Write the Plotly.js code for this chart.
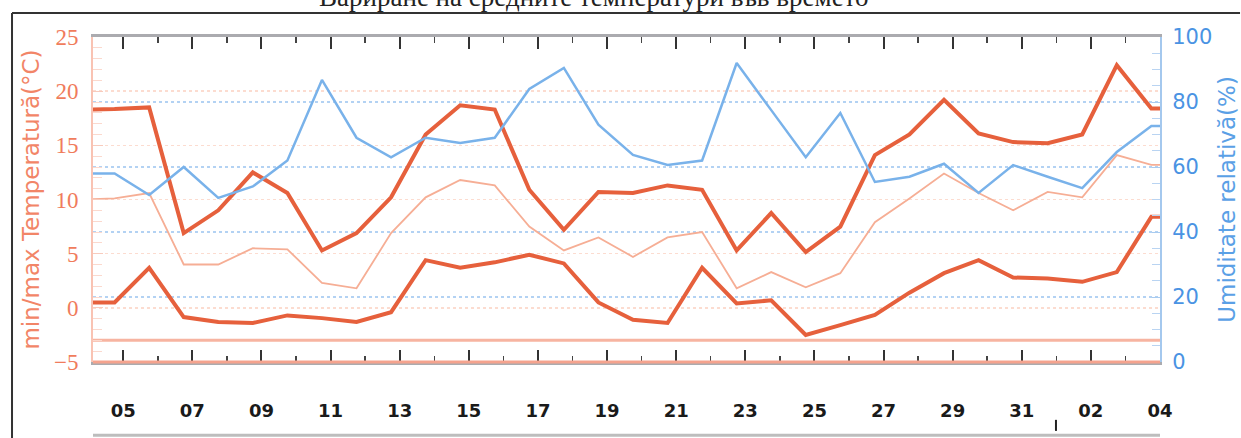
<!DOCTYPE html>
<html>
<head>
<meta charset="utf-8">
<script src="https://cdn.plot.ly/plotly-3.0.1.min.js"></script>
<style>
html,body{margin:0;padding:0;background:#fff;}
#chart{width:1241px;height:438px;}
</style>
</head>
<body>
<div id="chart"></div>
<script>
// Observation times (18:00 each day)
const dates = [
  '2012-10-03 18:00','2012-10-04 18:00','2012-10-05 18:00','2012-10-06 18:00','2012-10-07 18:00',
  '2012-10-08 18:00','2012-10-09 18:00','2012-10-10 18:00','2012-10-11 18:00','2012-10-12 18:00',
  '2012-10-13 18:00','2012-10-14 18:00','2012-10-15 18:00','2012-10-16 18:00','2012-10-17 18:00',
  '2012-10-18 18:00','2012-10-19 18:00','2012-10-20 18:00','2012-10-21 18:00','2012-10-22 18:00',
  '2012-10-23 18:00','2012-10-24 18:00','2012-10-25 18:00','2012-10-26 18:00','2012-10-27 18:00',
  '2012-10-28 18:00','2012-10-29 18:00','2012-10-30 18:00','2012-10-31 18:00','2012-11-01 18:00',
  '2012-11-02 18:00','2012-11-03 18:00','2012-11-04 18:00'
];
const tMax = [18.3,18.35,18.5,6.9,9.0,12.5,10.6,5.3,6.9,10.2,16.0,18.7,18.3,10.9,7.2,10.7,10.6,11.3,10.9,5.3,8.75,5.15,7.5,14.1,16.0,19.2,16.1,15.3,15.2,16.0,22.4,18.4,18.4];
const tMean = [10.0,10.1,10.6,4.0,4.0,5.5,5.4,2.3,1.8,6.9,10.2,11.8,11.3,7.5,5.3,6.5,4.7,6.5,7.0,1.8,3.3,1.9,3.2,7.9,10.1,12.4,10.6,9.0,10.7,10.2,14.1,13.2,13.2];
const tMin = [0.5,0.5,3.7,-0.85,-1.3,-1.4,-0.7,-0.95,-1.3,-0.4,4.4,3.7,4.2,4.9,4.1,0.5,-1.1,-1.4,3.7,0.4,0.7,-2.5,-1.6,-0.65,1.4,3.2,4.4,2.8,2.7,2.4,3.3,8.4,8.4];
const humidity = [58,58,51.4,60,50.5,54,62,86.8,69,63,69,67.4,69,84,90.5,73,63.7,60.6,62,92,77.5,63,76.6,55.4,57,61,52,60.6,57,53.5,64.6,72.6,72.6];
const xRange = ['2012-10-04 03:00','2012-11-04 00:00'];
const firstTick = '2012-10-05';
const frostLine = -3;
const titleText = 'Вариране на средните температури във времето';
const leftTitle = 'min/max Temperatură(°C)';
const rightTitle = 'Umiditate relativă(%)';

const RED = '#e6603c', LIGHT = '#f6ae95', BLUE = '#79b2ea';
const DAY = 86400000;

const traces = [
  {x: dates, y: humidity, yaxis: 'y2', mode: 'lines', line: {color: BLUE, width: 2.5}},
  {x: dates, y: tMean, mode: 'lines', line: {color: LIGHT, width: 1.8}},
  {x: dates, y: tMax, mode: 'lines', line: {color: RED, width: 4}},
  {x: dates, y: tMin, mode: 'lines', line: {color: RED, width: 4}}
];

const layout = {
  width: 1241, height: 438,
  margin: {l: 93, r: 81, t: 37, b: 76},
  paper_bgcolor: '#fff', plot_bgcolor: '#fff',
  showlegend: false,
  xaxis: {
    type: 'date', range: xRange, tick0: firstTick, dtick: 2*DAY, tickformat: '%d',
    ticks: 'inside', ticklen: 12, tickwidth: 2, tickcolor: '#333',
    minor: {dtick: DAY, ticks: 'inside', ticklen: 6, tickwidth: 1.5, tickcolor: '#444', showgrid: false},
    showline: true, linecolor: '#ababaf', linewidth: 3, mirror: 'ticks',
    showgrid: false, zeroline: false,
    ticklabelstandoff: 30,
    tickfont: {family: 'DejaVu Sans', size: 18, color: '#1a1a1a', weight: 'bold'}
  },
  yaxis: {
    range: [-5, 25], dtick: 5, tick0: 0,
    ticks: 'inside', ticklen: 10, tickcolor: '#f8cbbd', tickwidth: 1,
    minor: {dtick: 1, ticks: 'inside', ticklen: 9, tickcolor: '#fbd9ce', showgrid: false},
    showline: true, linecolor: '#f9c3b3', linewidth: 2,
    showgrid: true, gridcolor: '#fcdcd0', griddash: 'dot', gridwidth: 1.5, zeroline: false,
    ticklabelstandoff: 8,
    tickfont: {family: 'Liberation Serif', size: 23, color: '#f07c5c'},
    title: {text: leftTitle, standoff: 8, font: {family: 'DejaVu Sans', size: 23, color: '#f28567'}}
  },
  yaxis2: {
    overlaying: 'y', side: 'right', range: [0, 100], dtick: 20,
    ticks: 'inside', ticklen: 8, tickcolor: '#a9cbef', tickwidth: 1,
    minor: {dtick: 5, ticks: 'inside', ticklen: 8, tickcolor: '#b9d4f2', showgrid: false},
    showline: true, linecolor: '#a4c8ee', linewidth: 2,
    showgrid: true, gridcolor: '#b3d2f3', griddash: 'dot', gridwidth: 1.5, zeroline: false,
    ticklabelstandoff: 6,
    tickfont: {family: 'DejaVu Sans', size: 21, color: '#4a93e3'},
    title: {text: rightTitle, standoff: 8, font: {family: 'DejaVu Sans', size: 23, color: '#5aa0e6'}}
  },
  shapes: [
    {type: 'line', xref: 'paper', x0: 0, x1: 1, yref: 'y', y0: frostLine, y1: frostLine,
     line: {color: '#f7b4a1', width: 3}, layer: 'below'},
    {type: 'line', xref: 'paper', x0: 0, x1: 1, yref: 'paper', y0: 0, y1: 0,
     line: {color: '#f5a38e', width: 3}},
    {type: 'line', xref: 'paper', x0: -0.0759, x1: 1.075, yref: 'paper', y0: 1.074, y1: 1.074,
     line: {color: '#333', width: 2}},
    {type: 'line', xref: 'paper', x0: -0.0759, x1: -0.0759, yref: 'paper', y0: 1.074, y1: -0.234,
     line: {color: '#333', width: 2}},
    {type: 'line', xref: 'paper', x0: 0, x1: 1, yref: 'paper', y0: -0.225, y1: -0.225,
     line: {color: '#bdbdbd', width: 3}},
    {type: 'line', xref: 'paper', x0: 0.9025, x1: 0.9025, yref: 'paper', y0: -0.178, y1: -0.212,
     line: {color: '#222', width: 2}}
  ],
  annotations: [
    {text: titleText, xref: 'paper', yref: 'paper', x: 0.47, y: 1.07, xanchor: 'center', yanchor: 'bottom',
     showarrow: false, font: {family: 'Liberation Serif', size: 27, color: '#222'}}
  ]
};

Plotly.newPlot('chart', traces, layout, {displayModeBar: false, staticPlot: true});
</script>
</body>
</html>
